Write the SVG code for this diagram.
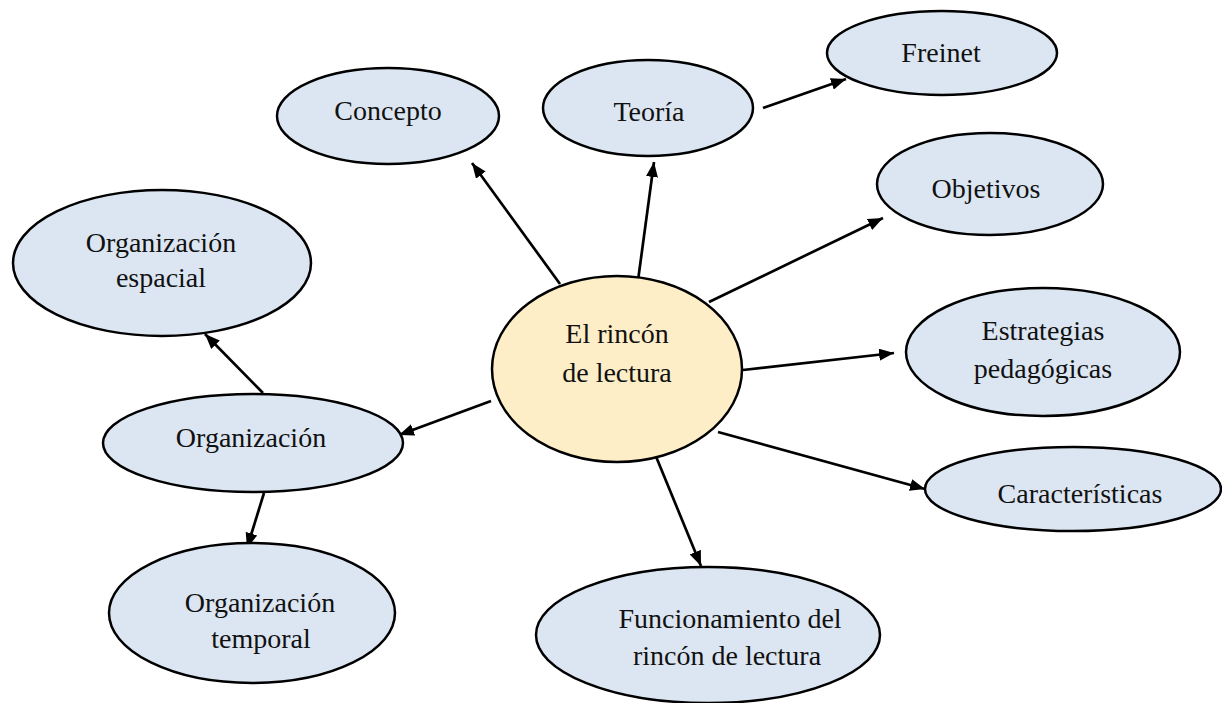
<svg xmlns="http://www.w3.org/2000/svg" width="1222" height="703" viewBox="0 0 1222 703">
<defs>
<marker id="ah" markerUnits="userSpaceOnUse" markerWidth="16" markerHeight="12" refX="15" refY="6" orient="auto">
<path d="M0,0 L15,6 L0,12 z" fill="#000"/>
</marker>
<style>
.n ellipse{fill:#dce6f2;stroke:#000;stroke-width:2.5}
.c ellipse{fill:#fdeec8;stroke:#000;stroke-width:2.5}
text{font-family:"Liberation Serif","Times New Roman",serif;font-size:28px;fill:#111;text-anchor:middle}
.e line{stroke:#000;stroke-width:2.7;marker-end:url(#ah)}
</style>
</defs>
<rect width="1222" height="703" fill="#fff"/>
<g class="e" id="connectors">
<line x1="560" y1="284" x2="472" y2="163"/>
<line x1="637" y1="288" x2="654" y2="162"/>
<line x1="763" y1="108" x2="846" y2="79"/>
<line x1="709" y1="302" x2="883" y2="218"/>
<line x1="743" y1="370" x2="894" y2="353"/>
<line x1="718" y1="432" x2="925" y2="489"/>
<line x1="648" y1="437" x2="701" y2="566"/>
<line x1="491" y1="401" x2="399" y2="435"/>
<line x1="263" y1="393" x2="205" y2="334"/>
<line x1="264" y1="493" x2="247" y2="548"/>
</g>
<g class="c" id="center"><ellipse cx="617" cy="369" rx="125" ry="93"/><text x="617" y="343">El rincón</text><text x="617" y="382">de lectura</text></g>
<g class="n" id="concepto"><ellipse cx="388" cy="116" rx="111" ry="48"/><text x="388" y="120">Concepto</text></g>
<g class="n" id="teoria"><ellipse cx="648" cy="108" rx="105" ry="48"/><text x="649" y="121">Teoría</text></g>
<g class="n" id="freinet"><ellipse cx="942" cy="53" rx="115" ry="42"/><text x="941" y="62">Freinet</text></g>
<g class="n" id="objetivos"><ellipse cx="990" cy="184" rx="113" ry="51"/><text x="986" y="198">Objetivos</text></g>
<g class="n" id="estrategias"><ellipse cx="1043" cy="352" rx="137" ry="64"/><text x="1043" y="340">Estrategias</text><text x="1043" y="378">pedagógicas</text></g>
<g class="n" id="caracteristicas"><ellipse cx="1073" cy="489" rx="148" ry="42"/><text x="1080" y="503">Características</text></g>
<g class="n" id="funcionamiento"><ellipse cx="708" cy="635" rx="172" ry="68"/><text x="730" y="628">Funcionamiento del</text><text x="727" y="665">rincón de lectura</text></g>
<g class="n" id="org"><ellipse cx="253" cy="443" rx="150" ry="49"/><text x="251" y="447">Organización</text></g>
<g class="n" id="org-espacial"><ellipse cx="162" cy="263" rx="149" ry="73"/><text x="161" y="252">Organización</text><text x="161" y="287">espacial</text></g>
<g class="n" id="org-temporal"><ellipse cx="252" cy="613" rx="143" ry="70"/><text x="260" y="612">Organización</text><text x="261" y="648">temporal</text></g>
</svg>
